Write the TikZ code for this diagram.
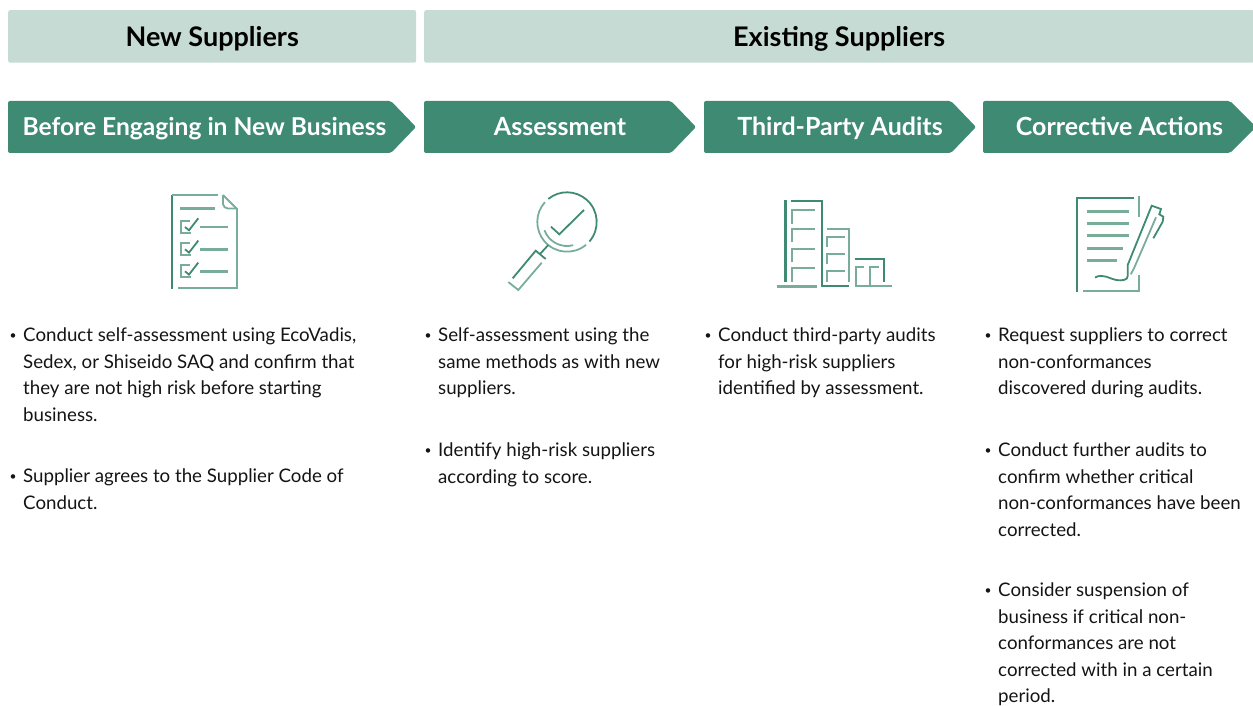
\documentclass[tikz,border=0pt]{standalone}
\usepackage{xcolor}
\usepackage{fontspec}
\setmainfont{Lato}
\usetikzlibrary{positioning}
\definecolor{headbg}{RGB}{197,219,211}
\definecolor{bannerbg}{RGB}{63,138,114}
\definecolor{icondark}{RGB}{63,138,114}
\definecolor{iconlight}{RGB}{120,174,153}
\definecolor{bodytext}{RGB}{20,20,20}
\tikzset{
    headbox/.style={rectangle, rounded corners=2pt, minimum height=52.5pt, inner sep=0pt, text centered, text height=24pt, text depth=3.2pt, fill=headbg, text=black, font=\fontsize{27}{32}\selectfont\bfseries},
    bannerbox/.style={fill=bannerbg, rounded corners=2pt},
    bannertext/.style={text=white, inner sep=0pt, anchor=center, text height=23pt, text depth=5pt, font=\fontsize{25}{30}\selectfont\bfseries},
    bullet/.style={anchor=base, inner sep=0pt, yshift=1.6pt, text=bodytext, font=\fontsize{12}{14}\selectfont},
    bodyblock/.style={anchor=north west, yshift=13.4pt, align=left, inner sep=0pt, text=bodytext, font=\fontsize{18.7}{26.5}\selectfont, execute at begin node=\strut},
    dark/.style={draw=icondark, line width=1.8pt},
    light/.style={draw=iconlight, line width=1.8pt},
    darkthick/.style={draw=icondark, line width=2.8pt},
    lightthick/.style={draw=iconlight, line width=2.6pt}
}
\begin{document}
\begin{tikzpicture}[x=1pt, y=-1pt]
    \useasboundingbox (0,0) rectangle (1253,706);
    \clip (0,0) rectangle (1253,706);

    % Group headers
    \node (newhead) [headbox, minimum width=408pt, anchor=north west] at (8,10) {New Suppliers};
    \node (existhead) [headbox, minimum width=830pt, anchor=north west] at (424,10) {Existing Suppliers};

    % Step banners
    \fill [bannerbox] (8,101) -- (391,101) -- (416,127) -- (391,153) -- (8,153) -- cycle;
    \fill [bannerbox] (424,101) -- (671,101) -- (696,127) -- (671,153) -- (424,153) -- cycle;
    \fill [bannerbox] (704,101) -- (951,101) -- (976,127) -- (951,153) -- (704,153) -- cycle;
    \fill [bannerbox] (983,101) -- (1230,101) -- (1256,127) -- (1230,153) -- (983,153) -- cycle;
    \node (before) [bannertext, font=\fontsize{24.6}{30}\selectfont\bfseries] at (204.5,127) {Before Engaging in New Business};
    \node (assess) [bannertext] at (560,127) {Assessment};
    \node (audits) [bannertext] at (840,127) {Third-Party Audits};
    \node (actions) [bannertext] at (1119.5,127) {Corrective Actions};

    % Checklist icon
    \draw [darkthick, line width=2pt] (172,289) -- (172,195);
    \draw [light] (172,195) -- (218,195);
    \draw [light] (223,195) -- (237,209) -- (237,288) -- (178,288);
    \draw [light] (223,195) -- (223,204) to[out=-90, in=180] (228,208.5) -- (237,208.5);
    \draw [lightthick] (180,208.5) -- (215,208.5);
    \foreach \y in {227,249.3,271.3} {
        \draw [light] (190,\y-6) -- (181,\y-6) -- (181,\y+6) -- (191,\y+6);
        \draw [dark] (185,\y) -- (189,\y+3.3) -- (198.3,\y-8.7);
        \draw [lightthick] (200,\y) -- (228,\y);
    }

    % Magnifier icon
    \draw [dark] (567,222) ++(41:29.7) arc[start angle=41, end angle=-129, radius=29.7];
    \draw [light] (567,222) ++(50:29.7) arc[start angle=50, end angle=222, radius=29.7];
    \draw [light] (567,222) ++(160:24) arc[start angle=160, end angle=75, radius=24];
    \draw [dark] (551,226.7) -- (559.3,234.3) -- (584,210);
    \draw [dark] (548.3,245) -- (540,254);
    \draw [dark] (545.7,259) -- (535.7,250.7) -- (512.7,278.3);
    \draw [light] (541.7,262.7) -- (518.3,290) -- (508.3,282);

    % Buildings icon
    \draw [darkthick] (785.7,200) -- (785.7,281.7);
    \draw [dark] (791,200.7) -- (822,200.7) -- (822,286) -- (849,286);
    \draw [lightthick] (777.3,286.3) -- (817,286.3);
    \foreach \y/\b in {210/224,229.3/242.3,248.7/262.3,268/281.7}
        \draw [light] (791.7,\b) -- (791.7,\y) -- (815,\y);
    \draw [light] (827.3,229) -- (849.3,229) -- (849.3,281.7);
    \foreach \y/\b in {236.7/247.3,254/264.3,271/281.7}
        \draw [light] (827.3,\b) -- (827.3,\y) -- (845,\y);
    \draw [dark] (854.7,259) -- (884.3,259) -- (884.3,281.7);
    \draw [light] (854.7,286) -- (891.7,286);
    \draw [light] (855.7,286) -- (855.7,266.7) -- (864,266.7);
    \draw [light] (869.7,286) -- (869.7,266.7) -- (879.3,266.7);

    % Signed document icon
    \draw [dark] (1076.7,291.7) -- (1076.7,197.7) -- (1134,197.7);
    \draw [lightthick, line width=2.2pt] (1139.3,196) -- (1139.3,216.7);
    \draw [light] (1139.3,275) -- (1139.3,290.7) -- (1082.7,290.7);
    \foreach \y/\e in {211.3/1129,223.3/1129,235.3/1129,248.3/1123,260.3/1116.7}
        \draw [lightthick] (1087.3,\y) -- (\e,\y);
    \draw [dark] (1095,277.5) .. controls (1103,273) and (1110,279) .. (1116,280) .. controls (1122,281) and (1128,280) .. (1127.7,276) -- (1127.7,265) -- (1151.7,205.7) -- (1161,209) -- (1159.3,214.3) -- (1163.3,216.7) -- (1162.7,221.7) -- (1153.3,238.3);
    \draw [light] (1156,217.3) -- (1134,268.3) -- (1130.7,274.3);

    % Before engaging text
    \node (b1) [bullet] at (13,341) {•};
    \node (t1) [bodyblock] at (23,341) {Conduct self-assessment using EcoVadis,\\Sedex, or Shiseido SAQ and confirm that\\they are not high risk before starting\\business.};
    \node (b2) [bullet] at (13,482) {•};
    \node (t2) [bodyblock] at (23,482) {Supplier agrees to the Supplier Code of\\Conduct.};

    % Assessment text
    \node (b3) [bullet] at (428,341) {•};
    \node (t3) [bodyblock] at (438,341) {Self-assessment using the\\same methods as with new\\suppliers.};
    \node (b4) [bullet] at (428,456) {•};
    \node (t4) [bodyblock] at (438,456) {Identify high-risk suppliers\\according to score.};

    % Audits text
    \node (b5) [bullet] at (708,341) {•};
    \node (t5) [bodyblock] at (718,341) {Conduct third-party audits\\for high-risk suppliers\\identified by assessment.};

    % Corrective actions text
    \node (b6) [bullet] at (988,341) {•};
    \node (t6) [bodyblock] at (998,341) {Request suppliers to correct\\non-conformances\\discovered during audits.};
    \node (b7) [bullet] at (988,456) {•};
    \node (t7) [bodyblock] at (998,456) {Conduct further audits to\\confirm whether critical\\non-conformances have been\\corrected.};
    \node (b8) [bullet] at (988,596) {•};
    \node (t8) [bodyblock] at (998,596) {Consider suspension of\\business if critical non-\\conformances are not\\corrected with in a certain\\period.};
\end{tikzpicture}
\end{document}
